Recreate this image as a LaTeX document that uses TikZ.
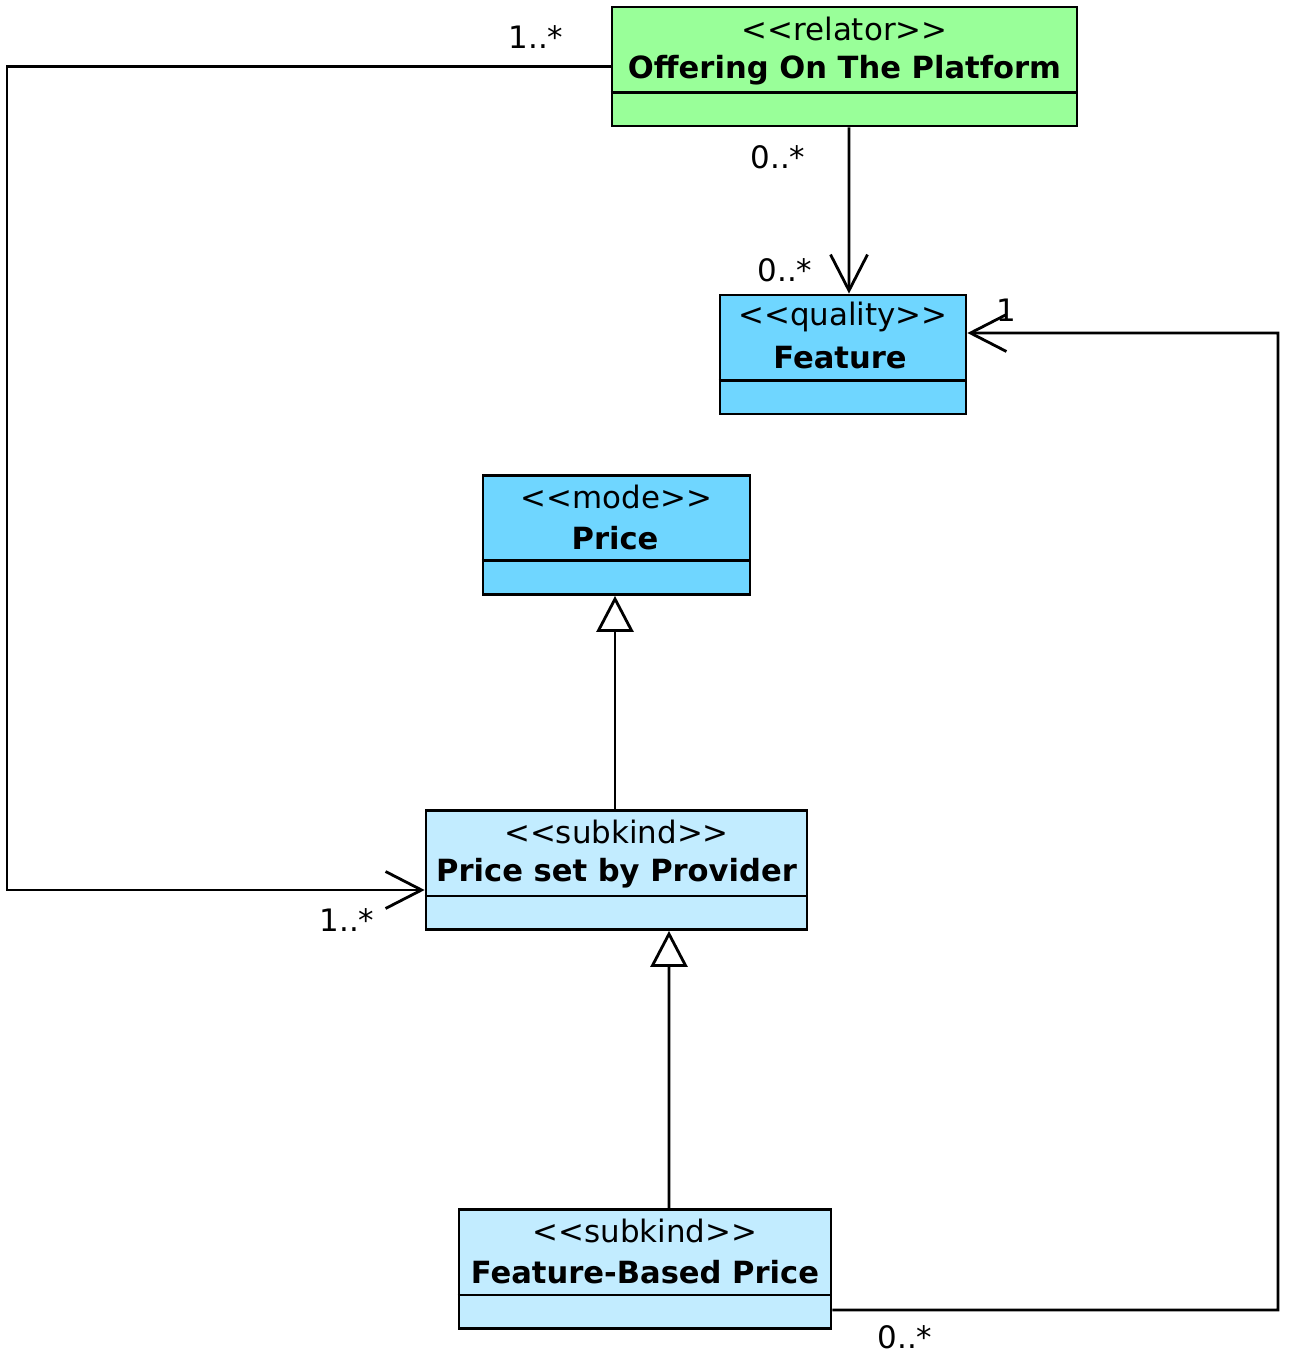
\documentclass[tikz,border=0pt]{standalone}
\usepackage{fontspec}
\setmainfont{DejaVu Sans}
\usetikzlibrary{arrows.meta}
\definecolor{relatorgreen}{RGB}{153,255,153}
\definecolor{modeblue}{RGB}{111,214,255}
\definecolor{subkindblue}{RGB}{194,236,255}
\newcommand{\stereotype}[1]{{<}{<}#1{>}{>}}

\begin{document}
\begin{tikzpicture}[x=0.02cm,y=0.02cm,
  classbox/.style={rectangle,draw,line width=1.6pt,inner sep=0pt,minimum height=2.38cm},
  stereo/.style={font=\fontsize{17.6}{20}\selectfont},
  title/.style={font=\fontsize{17.4}{20}\selectfont\bfseries},
  mult/.style={font=\fontsize{17.6}{20}\selectfont},
  assoc/.style={line width=1.6pt,-{Straight Barb[length=0.72cm,width=0.74cm]}},
  gen/.style={line width=1.6pt,-{Triangle[open,length=0.72cm,width=0.74cm,fill=white]}}]
\useasboundingbox (0,0) rectangle (1290,-1371);
% classes
\node (offer)   at (844.5,-66.5) [classbox,fill=relatorgreen,minimum width=9.3cm] {};
\node (feature) at (843,-354.5)  [classbox,fill=modeblue,minimum width=4.92cm] {};
\node (price)   at (616.5,-535)  [classbox,fill=modeblue,minimum width=5.34cm] {};
\node (pprov)   at (616.5,-870)  [classbox,fill=subkindblue,minimum width=7.62cm] {};
\node (fprice)  at (645,-1269)   [classbox,fill=subkindblue,minimum width=7.44cm] {};
\foreach \c in {offer,feature,price,pprov,fprice}
  \draw [line width=1.6pt] ([yshift=0.7cm]\c.south west) -- ([yshift=0.7cm]\c.south east);
\node (offerSt)   at (844.5,-29) [stereo] {\stereotype{relator}};
\node (offerNm)   at (844.5,-70) [title]  {Offering On The Platform};
\node (featureSt) at (843,-317)  [stereo] {\stereotype{quality}};
\node (featureNm) at (840,-358)  [title]  {Feature};
\node (priceSt)   at (616.5,-497) [stereo] {\stereotype{mode}};
\node (priceNm)   at (615,-538) [title]  {Price};
\node (pprovSt)   at (616.5,-832) [stereo] {\stereotype{subkind}};
\node (pprovNm)   at (616.5,-873) [title]  {Price set by Provider};
\node (fpriceSt)  at (645,-1231) [stereo] {\stereotype{subkind}};
\node (fpriceNm)  at (645,-1272) [title]  {Feature-Based Price};
% multiplicities
\node (multA) at (536,-37)   [mult] {1..*};
\node (multB) at (347,-920)  [mult] {1..*};
\node (multC) at (778,-157)  [mult] {0..*};
\node (multD) at (785,-270)  [mult] {0..*};
\node (multE) at (1006,-310) [mult] {1};
\node (multF) at (905,-1337) [mult] {0..*};
% associations
\draw [assoc] (offer.west) -- (7,-66.5) |- ([yshift=-0.4cm]pprov.west);
\draw [assoc] ([xshift=0.09cm]offer.south) -- ([xshift=0.12cm]feature.north);
\draw [assoc] ([yshift=-0.82cm]fprice.east) -- (1278,-1310) |- ([yshift=0.43cm]feature.east);
% generalizations
\draw [gen] ([xshift=-0.03cm]pprov.north) -- ([xshift=-0.03cm]price.south);
\draw [gen] ([xshift=0.48cm]fprice.north) -- ([xshift=1.05cm]pprov.south);
\end{tikzpicture}
\end{document}
